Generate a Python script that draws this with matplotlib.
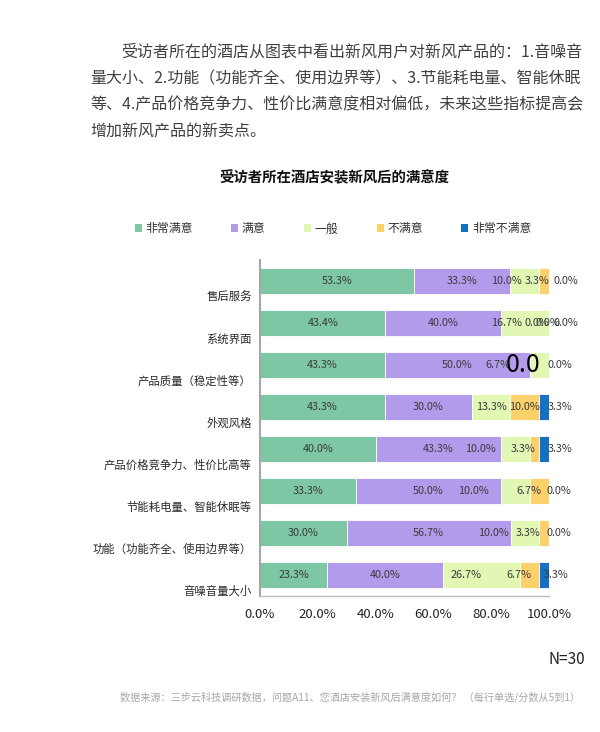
import matplotlib
matplotlib.use('Agg')
import matplotlib.pyplot as plt
from matplotlib.patches import Patch
from matplotlib.transforms import ScaledTranslation
import numpy as np

plt.rcParams['font.family'] = ['Noto Sans CJK SC', 'DejaVu Sans']

# data
categories = ['售后服务', '系统界面', '产品质量（稳定性等）', '外观风格',
              '产品价格竞争力、性价比高等', '节能耗电量、智能休眠等',
              '功能（功能齐全、使用边界等）', '音噪音量大小']
series_names = ['非常满意', '满意', '一般', '不满意', '非常不满意']
very_satisfied = [53.3, 43.4, 43.3, 43.3, 40.0, 33.3, 30.0, 23.3]
satisfied = [33.3, 40.0, 50.0, 30.0, 43.3, 50.0, 56.7, 40.0]
neutral = [10.0, 16.7, 6.7, 13.3, 10.0, 10.0, 10.0, 26.7]
dissatisfied = [3.3, 0.0, 0.0, 10.0, 3.3, 6.7, 3.3, 6.7]
very_dissatisfied = [0.0, 0.0, 0.0, 3.3, 3.3, 0.0, 0.0, 3.3]
xticks = [0, 20, 40, 60, 80, 100]

colors = ['#7DC7A4', '#B39BEC', '#E1F7B3', '#FBD16C', '#1670C1']

# label nudges (x units) the original chart has for the small segments
label_shift = [
    [0] * 8,
    [0] * 8,
    [-6.5, -6.3, -14.3, 0, -12.2, -14.3, -11.1, -5.3],
    [-2.5, -4.3, -9.0, 0, -4.0, -3.6, -5.6, -3.7],
    [6.0, 5.8, 3.8, 5.5, 5.5, 3.5, 3.5, 4.0],
]

fig = plt.figure(figsize=(6, 7.32), dpi=100)
ax = fig.add_axes([260 / 600, 136 / 732, 289 / 600, 336 / 732])

series = [very_satisfied, satisfied, neutral, dissatisfied, very_dissatisfied]
y = np.arange(len(categories))
left = np.zeros(len(categories))
for k, vals in enumerate(series):
    vals = np.array(vals)
    ax.barh(y, vals, left=left, height=0.62, color=colors[k],
            edgecolor='white', linewidth=0.6)
    centers = left + vals / 2
    for i in range(len(categories)):
        cx = centers[i] + label_shift[k][i]
        if k == 3 and i == 2:
            # odd oversized label in the original
            ax.text(cx, y[i], f'{vals[i]:.1f}', ha='center', va='center',
                    fontsize=18, color='black')
            continue
        ax.text(cx, y[i], f'{vals[i]:.1f}%', ha='center', va='center',
                fontsize=7.8, color='#3A3A3A')
        if k == 4 and i == 1:
            ax.text(cx - 6.2, y[i], f'{vals[i]:.1f}%', ha='center',
                    va='center', fontsize=7.8, color='#3A3A3A')
    left = left + vals

ax.set_xlim(0, 100)
ax.set_ylim(len(categories) - 0.5, -0.5)
ax.set_xticks(xticks)
ax.set_xticklabels([f'{t:.1f}%' for t in xticks], fontsize=9.5, color='#222222')
ax.set_yticks(y)
ax.set_yticklabels(categories, fontsize=8.2, color='#2A2A2A')
ax.tick_params(axis='both', length=0)
ax.tick_params(axis='x', pad=9)
ax.tick_params(axis='y', pad=6)
off = ScaledTranslation(0, -15 / 100, fig.dpi_scale_trans)
for lab in ax.get_yticklabels():
    lab.set_transform(lab.get_transform() + off)

for s in ['top', 'right']:
    ax.spines[s].set_visible(False)
ax.spines['left'].set_color('#A6A6A6')
ax.spines['left'].set_linewidth(1.5)
ax.spines['bottom'].set_color('#BFBFBF')
ax.spines['bottom'].set_linewidth(1.0)

handles = [Patch(facecolor=c, edgecolor='none') for c in colors]
fig.legend(handles, series_names, loc='center', bbox_to_anchor=(333 / 600, 1 - 229 / 732),
           ncol=5, frameon=False, fontsize=8.6, handlelength=0.6, handleheight=0.6,
           handletextpad=0.3, columnspacing=3.2, labelcolor='#333333')

fig.text(334 / 600, 1 - 178 / 732, '受访者所在酒店安装新风后的满意度',
         ha='center', va='center', fontsize=10.4, fontweight='bold', color='#111111')

para = ['受访者所在的酒店从图表中看出新风用户对新风产品的：1.音噪音',
        '量大小、2.功能（功能齐全、使用边界等）、3.节能耗电量、智能休眠',
        '等、4.产品价格竞争力、性价比满意度相对偏低，未来这些指标提高会',
        '增加新风产品的新卖点。']
for i, line in enumerate(para):
    x0 = 121 if i == 0 else 90
    fig.text(x0 / 600, 1 - (52 + 26.5 * i) / 732, line, ha='left', va='center',
             fontsize=11.5, color='#404040')

fig.text(585 / 600, 1 - 660 / 732, 'N=30', ha='right', va='center',
         fontsize=11, color='#222222')
fig.text(580 / 600, 1 - 697 / 732,
         '数据来源：三步云科技调研数据，问题A11、您酒店安装新风后满意度如何？ （每行单选/分数从5到1）',
         ha='right', va='center', fontsize=7.3, color='#A6A6A6')

fig.savefig('out.png', dpi=100, facecolor='white')
